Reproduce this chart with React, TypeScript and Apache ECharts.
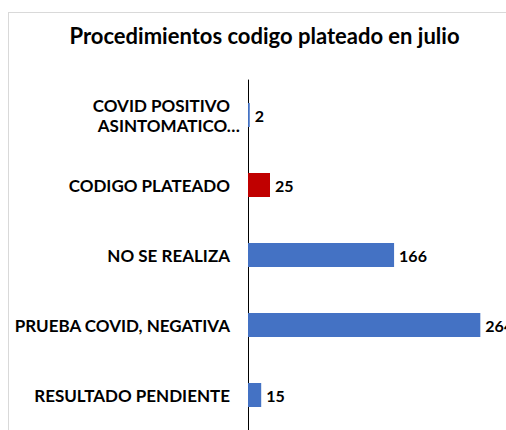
import React, { useEffect, useRef } from "react";
import * as echarts from "echarts";

const categories = [
  "COVID POSITIVO\nASINTOMATICO…",
  "CODIGO PLATEADO",
  "NO SE REALIZA",
  "PRUEBA COVID, NEGATIVA",
  "RESULTADO PENDIENTE",
];
const values = [2, 25, 166, 264, 15];
const barColors = ["#4472C4", "#C00000", "#4472C4", "#4472C4", "#4472C4"];
const title = "Procedimientos codigo plateado en julio";

const FONT = "Lato";

export default function App() {
  const ref = useRef<HTMLDivElement>(null);
  useEffect(() => {
    if (!ref.current) return;
    const chart = echarts.init(ref.current, undefined, { renderer: "svg" });
    const labelStyle = { fontFamily: FONT, fontWeight: "bold" as const, fontSize: 17, color: "#000" };
    chart.setOption({
      animation: false,
      backgroundColor: "#fff",
      title: {
        text: title,
        left: "center",
        top: 6,
        textStyle: { fontFamily: FONT, fontWeight: "bold", fontSize: 22, color: "#000" },
      },
      grid: { left: 239, top: 67, width: 264, height: 350 },
      xAxis: {
        type: "value",
        min: 0,
        max: 300,
        show: false,
      },
      yAxis: {
        type: "category",
        data: categories,
        inverse: true,
        axisTick: { show: false },
        axisLine: { show: true, lineStyle: { color: "#000", width: 1 } },
        axisLabel: {
          margin: 8,
          align: "right",
          lineHeight: 20,
          ...labelStyle,
          formatter: (v: string) => {
            const lines = v.split("\n");
            if (lines.length > 1) {
              return `{a|${lines[0]}}\n{b|${lines[1]}}`;
            }
            return `{a|${v}}`;
          },
          rich: {
            a: { ...labelStyle, lineHeight: 20, padding: [0, 10, 0, 0] },
            b: { ...labelStyle, lineHeight: 20 },
          },
        },
      },
      series: [
        {
          type: "bar",
          barWidth: 24,
          data: values.map((v, i) => ({ value: v, itemStyle: { color: barColors[i] } })),
          label: {
            show: true,
            position: "right",
            distance: 5,
            ...labelStyle,
            fontSize: 16,
          },
        },
      ],
    });
    return () => chart.dispose();
  }, []);
  return (
    <div style={{ position: "fixed", left: 0, top: 0, width: 506, height: 430, overflow: "hidden", background: "#fff" }}>
      <div
        style={{
          position: "absolute",
          left: 8,
          top: 12,
          border: "1px solid #d9d9d9",
          width: 511,
          height: 440,
        }}
      >
        <div ref={ref} style={{ width: 511, height: 440 }} />
      </div>
    </div>
  );
}
